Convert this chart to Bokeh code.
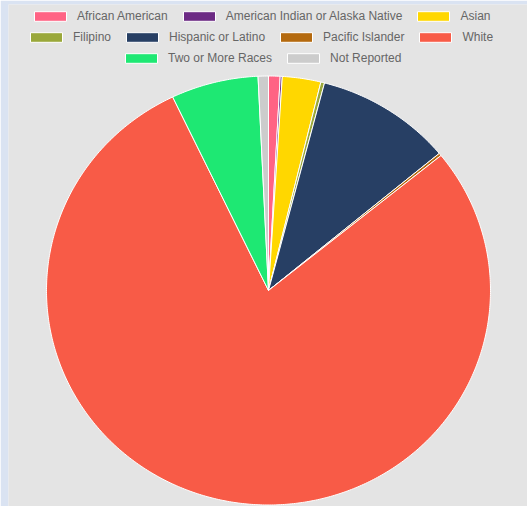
import math
from bokeh.plotting import figure
from bokeh.models import ColumnDataSource, Legend, LegendItem, Range1d
from bokeh.embed import file_html
from bokeh.resources import INLINE

categories = ["African American", "American Indian or Alaska Native", "Asian",
              "Filipino", "Hispanic or Latino", "Pacific Islander", "White",
              "Two or More Races", "Not Reported"]
percent = [0.84, 0.15, 2.8, 0.27, 9.9, 0.2, 78.7, 6.35, 0.75]
colors = ["#ff6384", "#6c2a84", "#ffd700", "#9aa83a", "#273f64",
          "#b4690e", "#f85b47", "#1ee873", "#cccccc"]
legend_rows = [[0, 1, 2], [3, 4, 5, 6], [7, 8]]

total = sum(percent)
xs, ys = [], []
cum = 0.0
for v in percent:
    a0 = math.pi / 2 - 2 * math.pi * cum / total
    cum += v
    a1 = math.pi / 2 - 2 * math.pi * cum / total
    n = max(2, int(abs(a1 - a0) / 0.01) + 2)
    px, py = [0.0], [0.0]
    for k in range(n):
        a = a0 + (a1 - a0) * k / (n - 1)
        px.append(math.cos(a))
        py.append(math.sin(a))
    xs.append(px)
    ys.append(py)

src = ColumnDataSource(dict(xs=xs, ys=ys, color=colors, label=categories))

p = figure(width=527, height=506, output_backend="svg", toolbar_location=None,
           x_range=Range1d(-1.1712, 1.1667), y_range=Range1d(-1.007, 1.3333),
           min_border_left=8, min_border_top=4, min_border_right=0, min_border_bottom=0)
p.axis.visible = False
p.grid.visible = False
p.outline_line_color = None
p.border_fill_color = "#dae3f2"
p.background_fill_color = "#e4e4e4"

r = p.patches("xs", "ys", source=src, fill_color="color", line_color="white", line_width=1)

row_pos = [(22, 480), (18, 459), (113, 438)]
for row, loc in zip(legend_rows, row_pos):
    items = [LegendItem(label=categories[i], renderers=[r], index=i) for i in row]
    lg = Legend(items=items, orientation="horizontal", location=loc,
                glyph_width=40, glyph_height=12, label_standoff=7, spacing=11,
                padding=0, margin=0, border_line_color=None, background_fill_alpha=0,
                label_text_font="Liberation Sans", label_text_font_size="12px",
                label_text_color="#666666", label_height=20)
    p.add_layout(lg)

open("out.html", "w").write(file_html(p, INLINE))
